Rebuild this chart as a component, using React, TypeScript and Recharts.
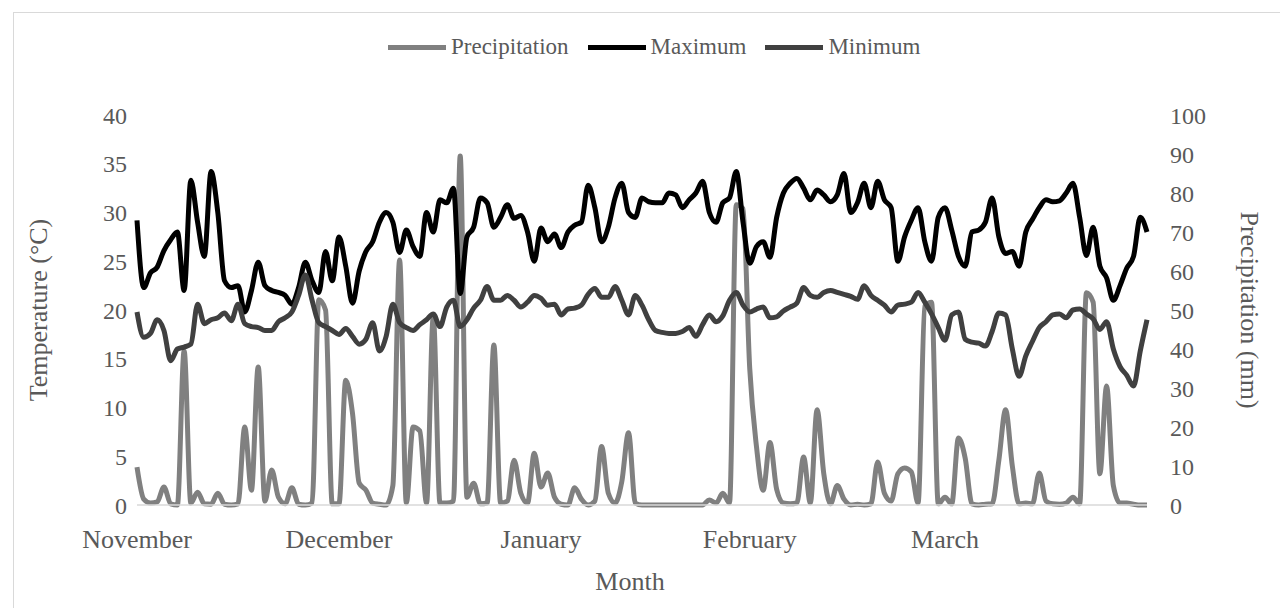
import React from "react";
import {
  ComposedChart,
  Line,
  XAxis,
  YAxis,
  Legend,
} from "recharts";

// daily values, 1 November .. 31 March
const maxTemp = [
  29.2, 22.3, 23.8, 24.4, 26.1, 27.2, 28, 22, 33.3, 29,
  25.5, 34.2, 30, 23, 22.3, 22.5, 19.8, 22, 24.9, 22.5,
  22, 21.8, 21.5, 20.6, 22.3, 24.9, 23, 21.8, 26, 23,
  27.5, 24.5, 20.7, 24, 26, 27, 29, 30, 29, 25.9,
  28.2, 26.5, 25.5, 30, 28, 31.3, 31, 32.5, 21.7, 27.5,
  28.5, 31.5, 31, 28.5, 29.5, 30.8, 29.4, 29.7, 28, 25,
  28.4, 27, 27.8, 26.4, 28, 28.7, 29, 32.8, 30.5, 27,
  28.5, 31.5, 33, 30, 29.5, 31.5, 31.1, 31, 31, 32,
  31.8, 30.5, 31.3, 32, 33.2, 30, 29, 31, 31.5, 34.2,
  29, 24.8, 26.5, 27, 25.4, 29.5, 32, 33, 33.5, 32.5,
  31.3, 32.3, 31.8, 31.1, 31.8, 34, 30, 31, 33, 30.5,
  33.2, 31.3, 30.5, 25, 27.5, 29.2, 30.5, 27, 25, 29.5,
  30.5, 28.2, 25.5, 24.5, 28, 28.2, 29, 31.5, 27.5, 25.8,
  26, 24.5, 28, 29.3, 30.5, 31.3, 31.1, 31.2, 32, 33,
  29.5, 25.6, 28.5, 24.5, 23.3, 21, 22.5, 24.3, 25.5, 29.5,
  28,
];

const minTemp = [
  19.8, 17.2, 17.6, 19, 17.9, 14.8, 16, 16.2, 16.5, 20.6,
  18.6, 19, 19.2, 19.7, 18.9, 20.6, 18.6, 18.3, 18.2, 17.9,
  17.9, 18.8, 19.2, 19.8, 21.5, 23.6, 21, 18.7, 18.3, 17.9,
  17.5, 18.1, 17.3, 16.5, 17, 18.7, 15.8, 17.3, 20.6, 18.7,
  18.2, 17.9, 18.5, 19, 19.6, 18.3, 20.3, 21, 18.3, 19,
  20.2, 21, 22.4, 21, 21, 21.5, 21, 20.3, 20.8, 21.5,
  21.2, 20.5, 20.6, 19.5, 20.1, 20.2, 20.5, 21.6, 22.2, 21.3,
  21.3, 22.4, 21, 19.5, 21.5, 20.5, 19, 17.9, 17.7, 17.6,
  17.6, 17.8, 18.2, 17.3, 18.5, 19.5, 18.8, 19.4, 21, 21.8,
  20.5, 19.8, 20.1, 20.3, 19.2, 19.3, 19.9, 20.3, 20.7, 22.3,
  21.5, 21.3, 21.8, 22, 21.8, 21.6, 21.4, 21.1, 22.5, 21.5,
  21, 20.5, 19.8, 20.5, 20.6, 20.8, 21.8, 20.8, 19.6, 18.2,
  16.9, 19.5, 19.8, 17, 16.7, 16.6, 16.3, 17.8, 19.7, 19.5,
  16, 13.2, 15.3, 16.8, 18.2, 18.8, 19.5, 19.6, 19.2, 20,
  20.1, 19.6, 19.1, 18, 18.8, 16, 14.2, 13.3, 12.2, 15.8,
  19,
];

const precipitation = [
  9.7, 1.5, 0.5, 0.8, 4.6, 0.3, 0, 39.5, 0.5, 3.3,
  0.3, 0.2, 3, 0.2, 0, 0.3, 20, 3.8, 35.4, 1,
  9, 2, 0.3, 4.4, 0.2, 0, 0.5, 52.6, 50, 0.3,
  0.3, 32, 23.6, 5.6, 3.8, 0.5, 0.2, 0, 5, 62.8,
  0.5, 20, 19, 0.5, 48.2, 0.5, 0.5, 1, 89.5, 2,
  5.6, 0.3, 0.5, 41, 0.5, 1, 11.5, 3, 0.5, 13.3,
  4.6, 8.2, 2, 0.2, 0, 4.4, 1.5, 0, 1, 15,
  3, 0.5, 6, 18.5, 0.5, 0, 0, 0, 0, 0,
  0, 0, 0, 0, 0, 1.3, 0.5, 3, 0.5, 77,
  76, 35, 15, 3.8, 16, 4, 0.5, 0.3, 0.5, 12.3,
  0.5, 24.4, 8, 0.3, 5, 1.5, 0, 0.2, 0, 0.3,
  11, 3, 1, 8, 9.5, 8.5, 0.5, 51, 52, 0.3,
  2, 0.3, 17.2, 12, 0.3, 0, 0.2, 0.3, 11.5, 24.4,
  10, 0.3, 0.5, 0.3, 8.2, 1, 0.3, 0.2, 0.5, 2,
  0.3, 54.4, 52, 8, 30.5, 5, 0.5, 0.5, 0.2, 0,
  0,
];

const seriesNames = ["Precipitation", "Maximum", "Minimum"];
const monthLabels = ["November", "December", "January", "February", "March"];
const monthTickDays = [0, 30, 60, 91, 120];
const tempTicks = [0, 5, 10, 15, 20, 25, 30, 35, 40];
const precipTicks = [0, 10, 20, 30, 40, 50, 60, 70, 80, 90, 100];

const data = maxTemp.map((v, i) => ({
  day: i,
  maximum: v,
  minimum: minTemp[i],
  precipitation: precipitation[i],
}));

const textGray = "#595959";
const serif = "'Liberation Serif', 'Times New Roman', serif";

const renderLegend = (props: any) => {
  const items = [...(props.payload || [])].sort(
    (a: any, b: any) => seriesNames.indexOf(a.value) - seriesNames.indexOf(b.value)
  );
  return (
    <div style={{ display: "flex", alignItems: "center", fontSize: 23, color: textGray, fontFamily: serif }}>
      {items.map((entry: any) => (
        <div key={entry.value} style={{ display: "flex", alignItems: "center", marginRight: 19 }}>
          <span style={{ display: "inline-block", width: 58, height: 5, background: entry.color, marginRight: 5 }} />
          <span>{entry.value}</span>
        </div>
      ))}
    </div>
  );
};

export default function App() {
  return (
    <div
      style={{
        position: "relative",
        width: 1280,
        height: 608,
        overflow: "hidden",
        background: "#fff",
        fontFamily: serif,
      }}
    >
      <style>{"body{margin:0}"}</style>
      {/* chart area frame, runs past the right and bottom edges */}
      <div
        style={{
          position: "absolute",
          left: 13,
          top: 12,
          width: 1320,
          height: 640,
          border: "1.5px solid #d9d9d9",
        }}
      />
      <ComposedChart
        width={1280}
        height={608}
        data={data}
        margin={{ top: 115, right: 0, bottom: 0, left: 0 }}
      >
        <XAxis
          dataKey="day"
          type="number"
          domain={[0, 150]}
          ticks={monthTickDays}
          tickFormatter={(d: number) => monthLabels[monthTickDays.indexOf(d)] ?? ""}
          height={103}
          tickLine={false}
          tickSize={0}
          tickMargin={25}
          axisLine={{ stroke: "#d9d9d9", strokeWidth: 1.5 }}
          tick={{ fill: textGray, fontSize: 26, fontFamily: serif }}
          label={{
            value: "Month",
            position: "insideBottom",
            offset: 18,
            dx: -12,
            fill: textGray,
            fontSize: 26,
            fontFamily: serif,
          }}
        />
        <YAxis
          yAxisId="left"
          domain={[0, 40]}
          ticks={tempTicks}
          width={137}
          axisLine={false}
          tickLine={false}
          tickSize={0}
          tickMargin={10}
          tick={{ fill: textGray, fontSize: 24, fontFamily: serif }}
          label={{
            value: "Temperature (°C)",
            angle: -90,
            position: "insideLeft",
            offset: 38,
            fill: textGray,
            fontSize: 26,
            fontFamily: serif,
            style: { textAnchor: "middle" },
          }}
        />
        <YAxis
          yAxisId="right"
          orientation="right"
          domain={[0, 100]}
          ticks={precipTicks}
          width={133}
          axisLine={false}
          tickLine={false}
          tickSize={0}
          tickMargin={23}
          tick={{ fill: textGray, fontSize: 24, fontFamily: serif }}
          label={{
            value: "Precipitation (mm)",
            angle: 90,
            position: "insideRight",
            offset: 30,
            fill: textGray,
            fontSize: 26,
            fontFamily: serif,
            style: { textAnchor: "middle" },
          }}
        />
        <Legend
          layout="horizontal"
          verticalAlign="middle"
          align="center"
          content={renderLegend}
          wrapperStyle={{ left: 388, top: 34, width: "auto" }}
        />
        <Line
          yAxisId="right"
          type="monotone"
          dataKey="precipitation"
          name="Precipitation"
          stroke="#808080"
          strokeWidth={5}
          dot={false}
          activeDot={false}
          isAnimationActive={false}
        />
        <Line
          yAxisId="left"
          type="monotone"
          dataKey="maximum"
          name="Maximum"
          stroke="#000000"
          strokeWidth={5}
          dot={false}
          activeDot={false}
          isAnimationActive={false}
        />
        <Line
          yAxisId="left"
          type="monotone"
          dataKey="minimum"
          name="Minimum"
          stroke="#404040"
          strokeWidth={5}
          dot={false}
          activeDot={false}
          isAnimationActive={false}
        />
      </ComposedChart>
    </div>
  );
}
